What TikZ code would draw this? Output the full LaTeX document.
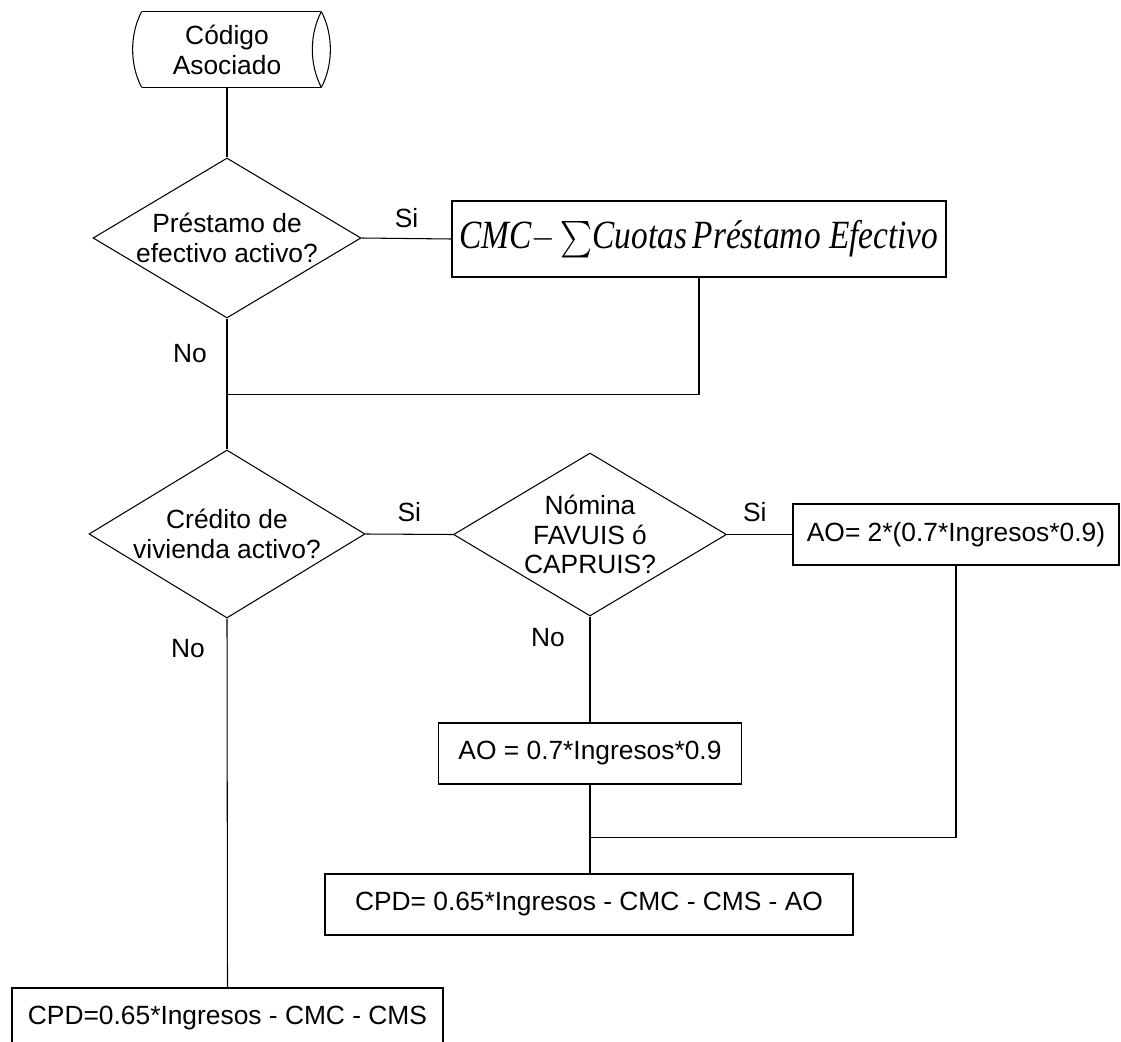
\documentclass[tikz,border=0pt]{standalone}
\usepackage{fontspec}
\usepackage{exscale}
\usepackage{graphicx}
\setmainfont{Liberation Sans}
\newfontfamily\formfont{Liberation Serif}
\usepackage{tikz}
\usetikzlibrary{
    shapes.geometric,
    positioning,
    calc
}

\begin{document}
\begin{tikzpicture}[
    line/.style={draw=black, line width=0.6pt},
    decision/.style={diamond, line, inner sep=0pt, minimum width=#1},
    proc/.style={rectangle, line, inner sep=0pt, minimum height=1.22cm},
    lbl/.style={inner sep=0pt},
    font=\fontsize{15}{17}\selectfont
]
    \clip (0,0) rectangle (22.42,-20.84);

    % Start
    \node[minimum width=3.58cm, minimum height=1.5cm, align=center, inner sep=0pt]
        (start) at (4.63,-0.99) {\hspace*{-0.18cm}Código\\\hspace*{-0.18cm}Asociado};
    \draw[line] (start.north west) -- (start.north east)
                (start.south west) -- (start.south east);
    \draw[line] (start.north west) .. controls +(-0.24,-0.45) and +(-0.24,0.45) .. (start.south west);
    \draw[line] (start.north east) .. controls +(-0.24,-0.45) and +(-0.24,0.45) .. (start.south east);
    \draw[line] (start.north east) .. controls +(0.24,-0.45) and +(0.24,0.45) .. (start.south east);

    % Decisions
    \node[decision=5.36cm, minimum height=3.2cm,
          label={[align=center]center:Préstamo de\\efectivo activo?}] (q1) at (4.54,-4.76) {};
    \node[decision=5.52cm, minimum height=3.36cm,
          label={[align=center]center:Crédito de\\vivienda activo?}] (q2) at (4.54,-10.68) {};
    \node[decision=5.46cm, minimum height=3.26cm,
          label={[align=center]center:Nómina\\FAVUIS ó\\CAPRUIS?}] (q3) at (11.8,-10.69) {};

    % Boxes
    \node[proc, minimum width=9.88cm, minimum height=1.52cm,
          font=\formfont\itshape\fontsize{19}{22}\selectfont]
        (f1) at (13.98,-4.78) {\scalebox{1}[1.2]{CMC$\mathord{-}\sum$Cuotas\,Préstamo Efectivo}};
    \node[proc, minimum width=6.52cm] (ao2) at (19.12,-10.69) {AO= 2*(0.7*Ingresos*0.9)};
    \node[proc, minimum width=6.06cm] (ao1) at (11.8,-15.07) {AO = 0.7*Ingresos*0.9};
    \node[proc, minimum width=10.56cm] (cpd1) at (11.78,-18.09) {CPD= 0.65*Ingresos - CMC - CMS - AO};
    \node[proc, minimum width=8.62cm] (cpd2) at (4.55,-20.37) {CPD=0.65*Ingresos - CMC - CMS};

    % Joins
    \coordinate (j1) at ($(q1.south)+(0,-1.52)$);
    \coordinate (j2) at ($(ao1.south)+(0,-1.06)$);

    % Connectors
    \draw[line] (q1.north) -- (q1.north |- start.south);
    \draw[line] (q1.east) -- (f1.west);
    \draw[line] (q1.south) -- (q2.north);
    \draw[line] (f1.south) |- (j1);
    \draw[line] (q2.east) -- (q3.west);
    \draw[line] (q3.east) -- (ao2.west);
    \draw[line] (q3.south) -- (q3.south |- ao1.north);
    \draw[line] (ao2.south) |- (j2);
    \draw[line] (q3.south |- ao1.south) -- (q3.south |- cpd1.north);
    \draw[line] (q2.south) -- (cpd2.north);

    % Labels
    \node[lbl] (si1) at ($(q1.east)!0.5!(f1.west)+(0,0.4)$) {Si};
    \node[lbl] (si2) at ($(q2.east)!0.5!(q3.west)+(0,0.44)$) {Si};
    \node[lbl] (si3) at ($(q3.east)!0.5!(ao2.west)+(-0.1,0.44)$) {Si};
    \node[lbl] (no1) at ($(q1.south)+(-0.74,-0.7)$) {No};
    \node[lbl] (no2) at ($(q2.south)+(-0.78,-0.6)$) {No};
    \node[lbl] (no3) at ($(q3.south)+(-0.84,-0.42)$) {No};
\end{tikzpicture}
\end{document}
